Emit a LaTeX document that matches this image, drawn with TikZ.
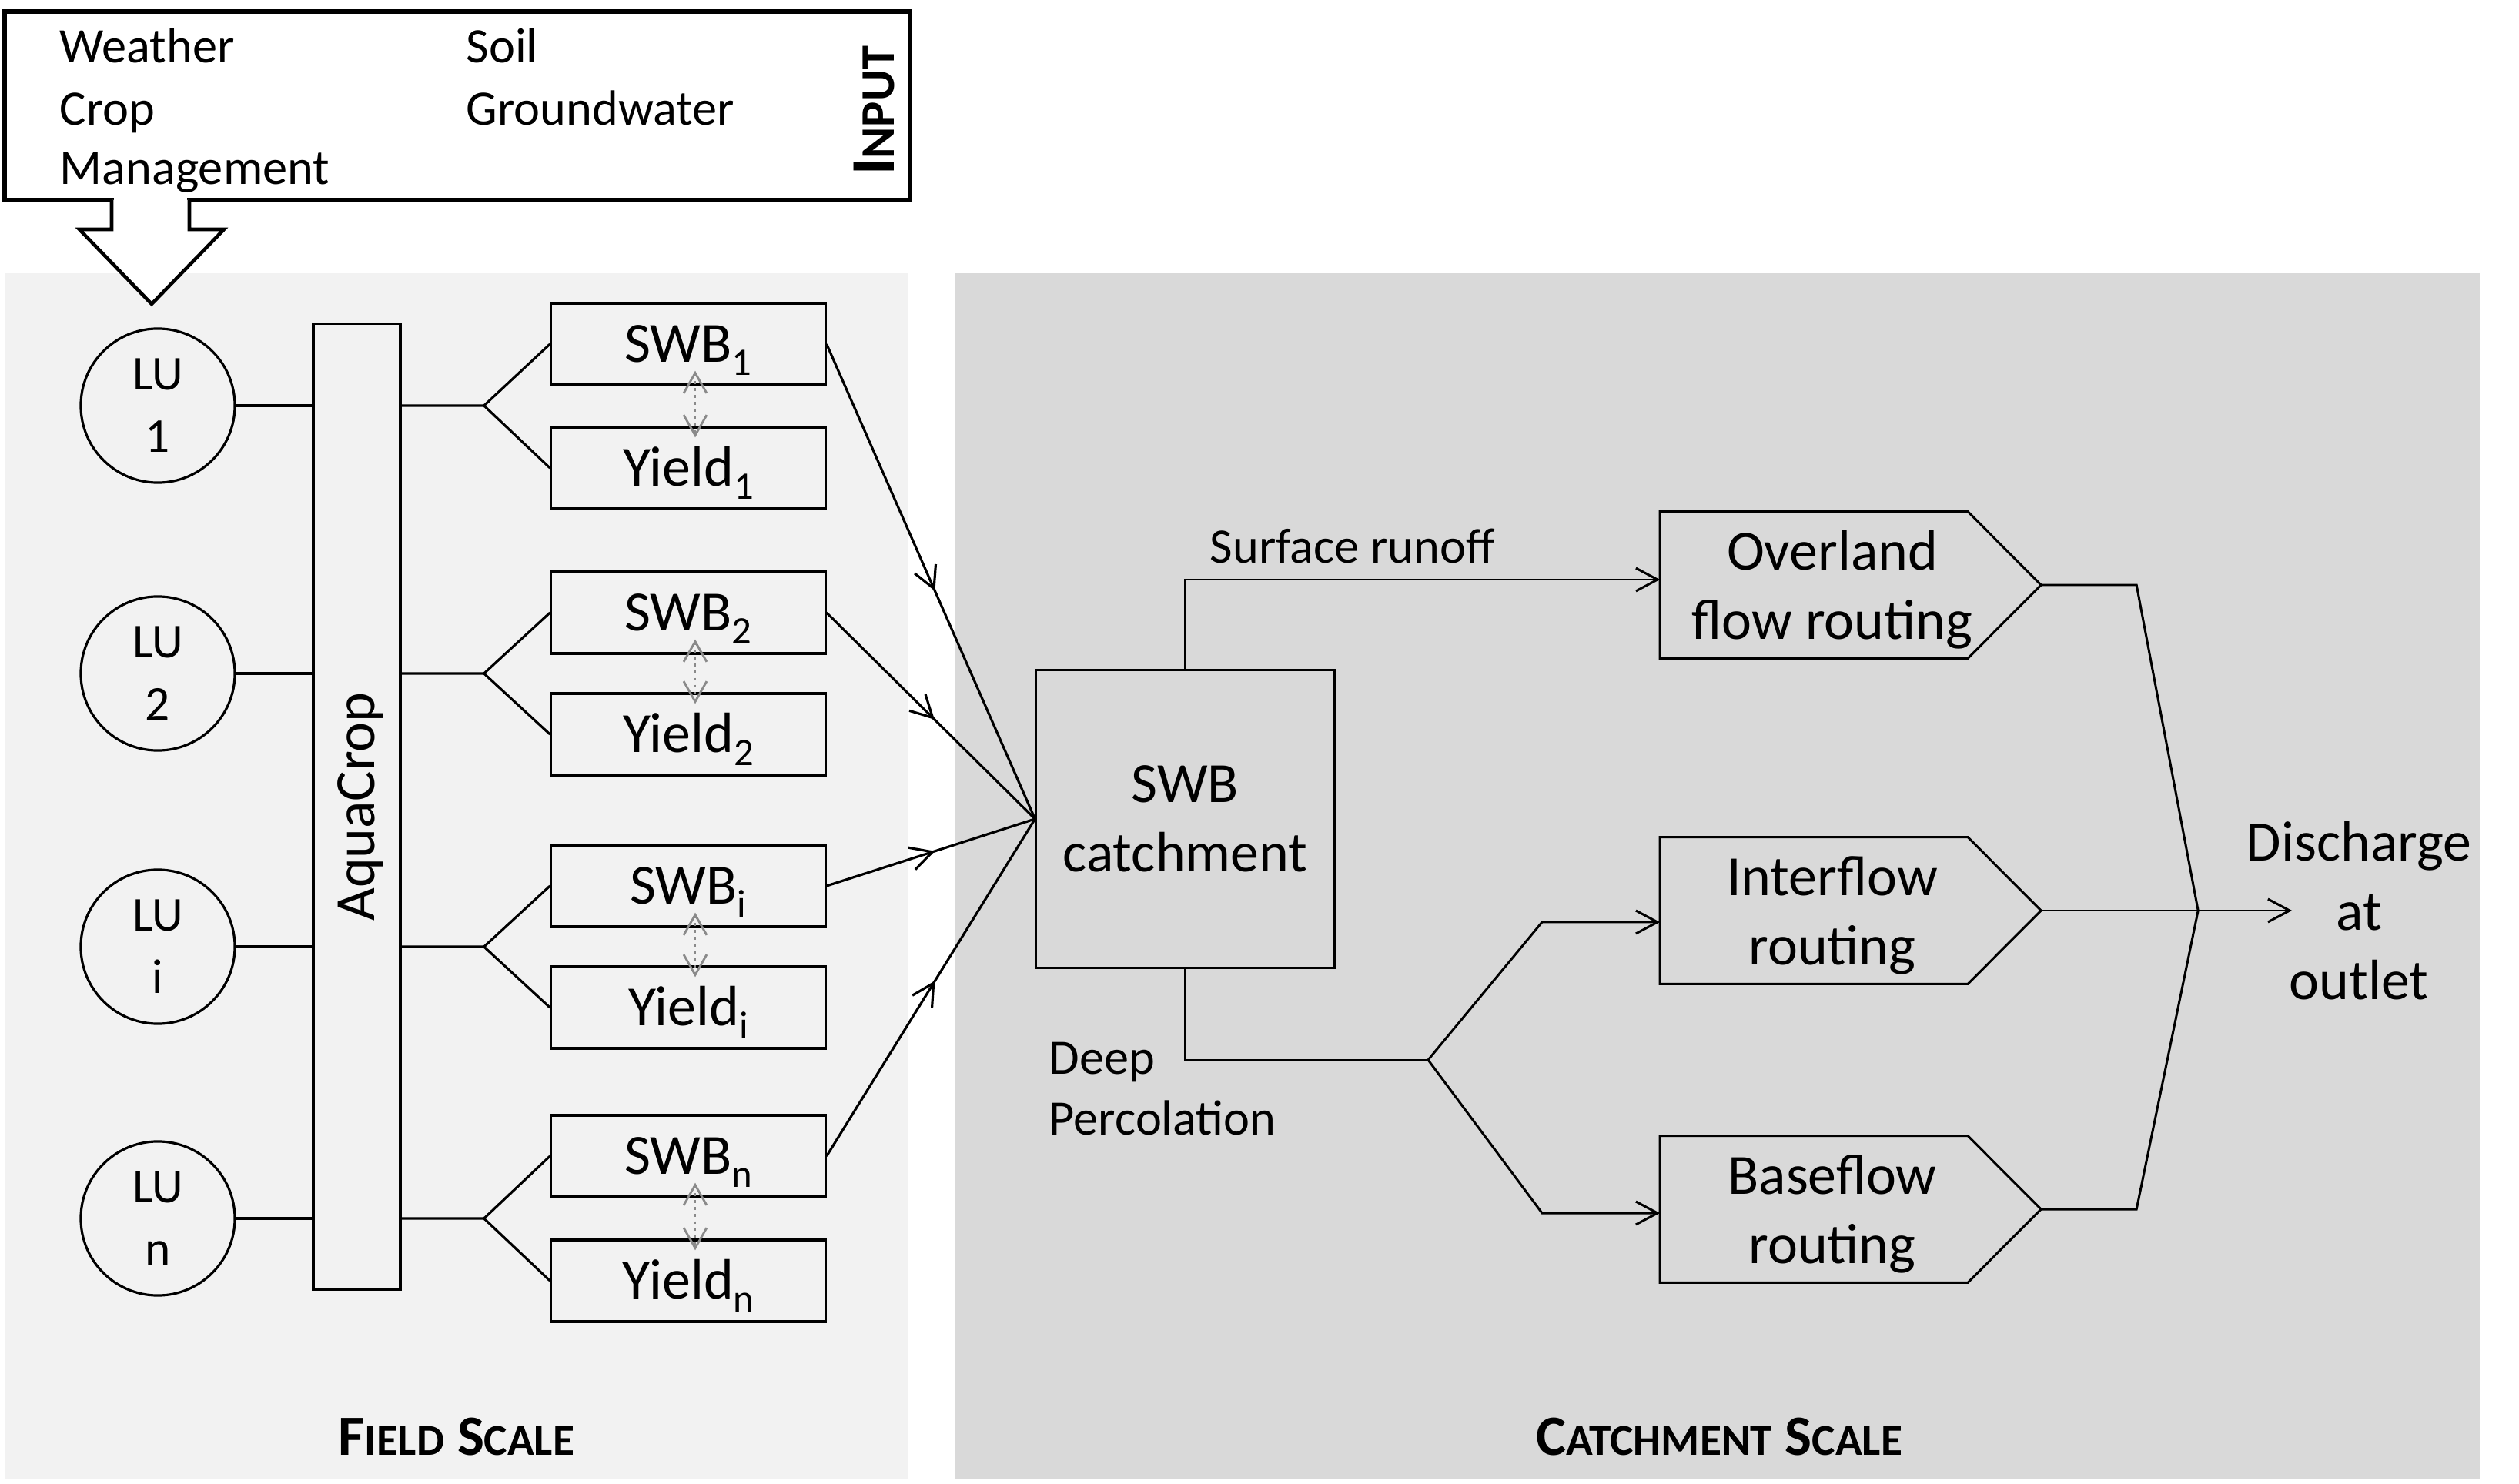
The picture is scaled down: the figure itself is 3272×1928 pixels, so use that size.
\documentclass[tikz,border=0pt]{standalone}
\usepackage{fontspec}
\setmainfont{Carlito}
\usetikzlibrary{arrows.meta,calc,decorations.markings}
\definecolor{fieldbg}{HTML}{F2F2F2}
\definecolor{catchbg}{HTML}{D9D9D9}
\definecolor{dotgray}{HTML}{8A8A8A}
\newcommand{\mainsz}{\fontsize{21}{25.5}\selectfont}
\newcommand{\smallsz}{\fontsize{18.3}{22.5}\selectfont}
\newcommand{\lusz}{\fontsize{18}{23}\selectfont}
\newcommand{\scsz}{\fontsize{16.3}{16.3}\selectfont}
\newcommand{\scinsz}{\fontsize{17.8}{17.8}\selectfont}
\newcommand{\sbs}[1]{\raisebox{-4.8pt}{\fontsize{14.4}{14.4}\selectfont #1}}
\newcommand{\pentaoutline}[1]{%
  \draw[cline] (#1.north west) -- ($(#1.north west)+(400,0)$)
    -- ($(#1.west)+(495,0)$) coordinate (#1tip)
    -- ($(#1.south west)+(400,0)$) -- (#1.south west) -- cycle;}
\begin{document}
\begin{tikzpicture}[x=0.01cm, y=-0.01cm,
  barb/.style={-{Straight Barb[length=8pt,width=8.5pt]}},
  fline/.style={line width=0.9pt},
  cline/.style={line width=0.85pt},
  fbox/.style={draw, fline, minimum width=3.56cm, minimum height=1.06cm,
    inner sep=0pt, font=\mainsz, text height=13.3pt, text depth=0pt},
  lu/.style={draw, fline, circle, minimum size=2cm, inner sep=0pt,
    align=center, font=\lusz},
  pent/.style={minimum width=4.46cm, minimum height=1.89cm, inner sep=0pt,
    align=center, font=\mainsz},
  midarrow/.style={fline, postaction={decorate},
    decoration={markings, mark=at position 0.52 with
      {\arrow{Straight Barb[length=8pt,width=8.5pt]}}}},
  dotarr/.style={dotgray, line width=0.8pt, dash pattern=on 1pt off 1.6pt,
    {Straight Barb[length=7.5pt,width=8.5pt]}-{Straight Barb[length=7.5pt,width=8.5pt]}},
  lbl/.style={inner sep=0pt, font=\smallsz}
]
\useasboundingbox (0,0) rectangle (3272,1928);

% background panels
\fill[fieldbg] (6,355) rectangle (1179,1921);
\fill[catchbg] (1241,355) rectangle (3221,1921);

% input box
\node[draw, line width=1.7pt, fill=white, minimum width=11.76cm,
  minimum height=2.45cm, inner sep=0pt] (inp) at (594,137.5) {};
\node[lbl, anchor=base west] (tw) at (77,82) {Weather};
\node[lbl, anchor=base west] (tc) at (77,163) {Crop};
\node[lbl, anchor=base west] (tm) at (77,240) {Management};
\node[lbl, anchor=base west] (ts) at (605,82) {Soil};
\node[lbl, anchor=base west] (tg) at (605,163) {Groundwater};
\node[rotate=90, inner sep=0pt, font=\bfseries\fontsize{23}{23}\selectfont,
  text height=14.5pt, text depth=0pt] (inl) at (1136,144) {I{\scinsz NPUT}};

% block arrow
\fill[white] (148,250) rectangle (243,300);
\draw[line width=1.3pt, fill=white] (145,260) -- (145,298) -- (103,298)
  -- (197,395) -- (291,298) -- (246,298) -- (246,260);

% AquaCrop bar (rotated: north = left side, south = right side)
\node[draw, fline, rotate=90, minimum width=12.54cm, minimum height=1.13cm,
  inner sep=0pt, font=\mainsz, text height=13.3pt, text depth=0pt]
  (aq) at (463.5,1048) {AquaCrop};

% land units and field boxes
\node[lu] (lu1) at (205,527) {LU\\1};
\node[lu] (lu2) at (205,875) {LU\\2};
\node[lu] (lu3) at (205,1230) {LU\\i};
\node[lu] (lu4) at (205,1583) {LU\\n};

\node[fbox] (s1) at (894,447) {SWB\sbs{1}};
\node[fbox] (y1) at (894,608) {Yield\sbs{1}};
\node[fbox] (s2) at (894,796) {SWB\sbs{2}};
\node[fbox] (y2) at (894,954) {Yield\sbs{2}};
\node[fbox] (s3) at (894,1151) {SWB\sbs{i}};
\node[fbox] (y3) at (894,1309) {Yield\sbs{i}};
\node[fbox] (s4) at (894,1502) {SWB\sbs{n}};
\node[fbox] (y4) at (894,1664) {Yield\sbs{n}};

\foreach \k in {1,2,3,4}{
  \coordinate (f\k) at ($(lu\k.east)+(322,0)$);
  \draw[fline] (lu\k.east) -- (lu\k.east -| aq.north);
  \draw[fline] (f\k -| aq.south) -- (f\k) -- (s\k.west);
  \draw[fline] (f\k) -- (y\k.west);
  \draw[dotarr] ($(s\k.south)+(9,-20)$) -- ($(y\k.north)+(9,15)$);
}

% catchment
\node[draw, cline, minimum width=3.87cm, minimum height=3.86cm, inner sep=0pt,
  align=center, font=\mainsz] (c) at (1539.5,1064) {SWB\\catchment};

\foreach \k in {1,2,3,4}{
  \draw[midarrow] (s\k.east) -- (c.west);
}

\node[pent] (ov) at (2380,760) {Overland\\\smash{flow routing}};
\node[pent] (inf) at (2380,1183) {Interflow\\\smash{routing}};
\node[pent] (bf) at (2380,1571) {Baseflow\\\smash{routing}};
\pentaoutline{ov}
\pentaoutline{inf}
\pentaoutline{bf}

\node[lbl, anchor=base west] (srl) at (1571,732) {Surface runoff};
\draw[cline, barb] (c.north) |- ($(ov.west)+(0,-7)$);

\node[lbl, anchor=base west] (dpl1) at (1362,1395) {Deep};
\node[lbl, anchor=base west] (dpl2) at (1362,1474) {Percolation};
\coordinate (dp) at (1855,1377);
\coordinate (di) at (2003,1198);
\coordinate (db) at (2003,1576);
\draw[cline] (c.south) |- (dp);
\draw[cline, barb] (dp) -- (di) -- ($(inf.west)+(0,15)$);
\draw[cline, barb] (dp) -- (db) -- ($(bf.west)+(0,5)$);

\node[align=center, font=\mainsz] (dis) at (3064,1183) {Discharge\\at\\outlet};
\coordinate (jn) at ($(inftip)+(204,0)$);
\coordinate (ovk) at ($(ovtip)+(124,0)$);
\coordinate (bfk) at ($(bftip)+(124,0)$);
\coordinate (out) at ($(inftip)+(326,0)$);
\draw[cline] (ovtip) -- (ovk) -- (jn) -- (bfk) -- (bftip);
\draw[cline, barb] (inftip) -- (out);

% scale labels
\node[anchor=base, inner sep=0pt, font=\bfseries\fontsize{21}{21}\selectfont]
  (fsl) at (593,1890) {F{\scsz IELD} S{\scsz CALE}};
\node[anchor=base, inner sep=0pt, font=\bfseries\fontsize{21}{21}\selectfont]
  (csl) at (2233,1890) {C{\scsz ATCHMENT} S{\scsz CALE}};
\end{tikzpicture}
\end{document}
